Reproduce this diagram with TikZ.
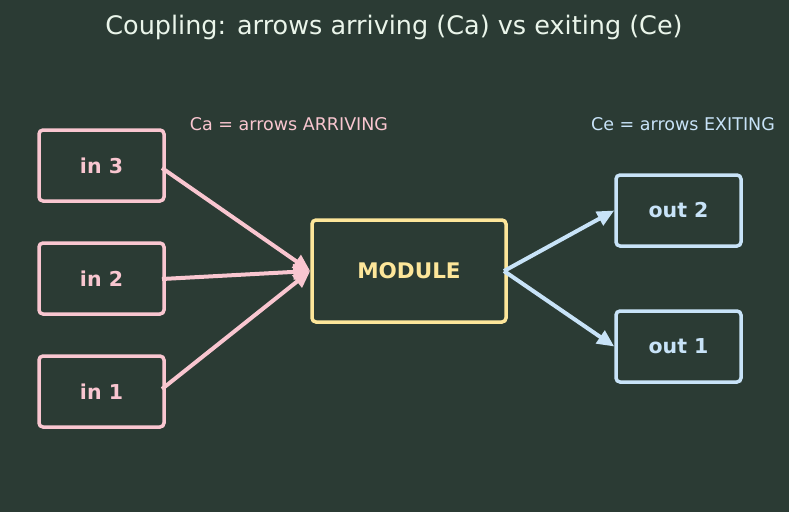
\documentclass[tikz,border=0pt]{standalone}
\usepackage{fontspec}
\setmainfont{DejaVu Sans}
\usetikzlibrary{arrows.meta}
\definecolor{bg}{HTML}{2B3B34}
\definecolor{pinkc}{HTML}{F9C6D0}
\definecolor{yellowc}{HTML}{FDE69A}
\definecolor{bluec}{HTML}{C8E3F8}
\definecolor{titlec}{HTML}{EAF5EA}
\begin{document}
\begin{tikzpicture}[x=1pt,y=-1pt,
  box/.style={draw, line width=3.5pt, rounded corners=4pt, minimum width=125pt, minimum height=71pt, inner sep=0pt, font=\bfseries\fontsize{20.5}{24}\selectfont},
  inbox/.style={box, draw=pinkc, text=pinkc},
  outbox/.style={box, draw=bluec, text=bluec},
  inarrow/.style={draw=pinkc, line width=4pt, -{Triangle[length=17pt,width=15pt]}},
  outarrow/.style={draw=bluec, line width=4pt, -{Triangle[length=17pt,width=15pt]}}]
\fill[bg] (0,0) rectangle (789,512);
\useasboundingbox (0,0) rectangle (789,512);
\node[text=titlec, font=\fontsize{25.5}{30}\selectfont] (title) at (394,27) {Coupling: arrows arriving (Ca) vs exiting (Ce)};
\node[text=pinkc, font=\fontsize{17.5}{21}\selectfont] (ca) at (289,124) {Ca = arrows ARRIVING};
\node[text=bluec, font=\fontsize{17.5}{21}\selectfont] (ce) at (683,124) {Ce = arrows EXITING};
\node[inbox] (in3) at (101.5,165.5) {in 3};
\node[inbox] (in2) at (101.5,278.5) {in 2};
\node[inbox] (in1) at (101.5,391.5) {in 1};
\node[box, draw=yellowc, text=yellowc, minimum width=194pt, minimum height=102pt, font=\bfseries\fontsize{21.5}{25}\selectfont] (mod) at (409,271) {MODULE};
\node[outbox] (out2) at (678.5,210.5) {out 2};
\node[outbox] (out1) at (678.5,346.5) {out 1};
\coordinate (s3) at (162,168);
\coordinate (s2) at (162,279);
\coordinate (s1) at (162,389);
\draw[inarrow] (s3) -- (mod.west);
\draw[inarrow] (s2) -- (mod.west);
\draw[inarrow] (s1) -- (mod.west);
\coordinate (m) at (504,271);
\draw[outarrow] (m) -- (out2.west);
\draw[outarrow] (m) -- (out1.west);
\end{tikzpicture}
\end{document}
